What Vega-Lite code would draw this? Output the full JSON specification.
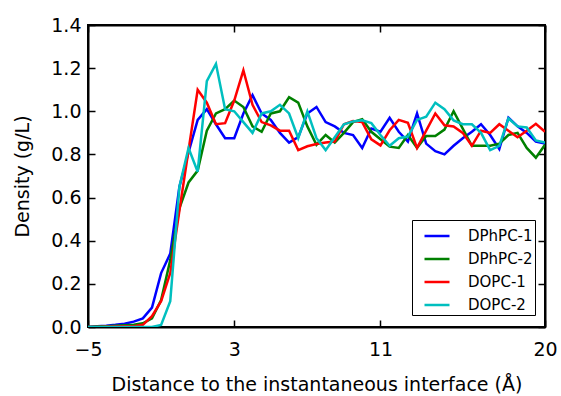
{
  "$schema": "https://vega.github.io/schema/vega-lite/v6.json",
  "width": 457,
  "height": 302,
  "autosize": "none",
  "padding": {"left": 88, "top": 25, "right": 16, "bottom": 69},
  "background": "white",
  "config": {
    "font": "DejaVu Sans",
    "view": {"stroke": "black", "strokeWidth": 2},
    "axis": {
      "grid": false,
      "domainColor": "black",
      "domainWidth": 2,
      "tickColor": "black",
      "tickWidth": 1.5,
      "tickSize": -7,
      "labelFont": "DejaVu Sans",
      "labelFontSize": 19,
      "labelColor": "black",
      "titleFont": "DejaVu Sans",
      "titleFontSize": 19,
      "titleFontWeight": "normal",
      "titleColor": "black"
    }
  },
  "data": {
    "values": [
      {"x": -5.0, "DPhPC-1": 0.0, "DPhPC-2": 0.0, "DOPC-1": 0.0, "DOPC-2": 0.0},
      {"x": -4.5, "DPhPC-1": 0.003, "DPhPC-2": 0.002, "DOPC-1": 0.0, "DOPC-2": 0.0},
      {"x": -4.0, "DPhPC-1": 0.006, "DPhPC-2": 0.004, "DOPC-1": 0.001, "DOPC-2": 0.0},
      {"x": -3.5, "DPhPC-1": 0.01, "DPhPC-2": 0.006, "DOPC-1": 0.002, "DOPC-2": 0.0},
      {"x": -3.0, "DPhPC-1": 0.015, "DPhPC-2": 0.008, "DOPC-1": 0.003, "DOPC-2": 0.0},
      {"x": -2.5, "DPhPC-1": 0.025, "DPhPC-2": 0.01, "DOPC-1": 0.004, "DOPC-2": 0.0},
      {"x": -2.0, "DPhPC-1": 0.04, "DPhPC-2": 0.017, "DOPC-1": 0.01, "DOPC-2": 0.0},
      {"x": -1.5, "DPhPC-1": 0.09, "DPhPC-2": 0.04, "DOPC-1": 0.05, "DOPC-2": 0.0},
      {"x": -1.0, "DPhPC-1": 0.25, "DPhPC-2": 0.125, "DOPC-1": 0.12, "DOPC-2": 0.01},
      {"x": -0.5, "DPhPC-1": 0.34, "DPhPC-2": 0.31, "DOPC-1": 0.25, "DOPC-2": 0.12},
      {"x": 0.0, "DPhPC-1": 0.65, "DPhPC-2": 0.55, "DOPC-1": 0.54, "DOPC-2": 0.65},
      {"x": 0.5, "DPhPC-1": 0.81, "DPhPC-2": 0.67, "DOPC-1": 0.82, "DOPC-2": 0.83},
      {"x": 1.0, "DPhPC-1": 0.96, "DPhPC-2": 0.725, "DOPC-1": 1.1, "DOPC-2": 0.72},
      {"x": 1.5, "DPhPC-1": 1.01, "DPhPC-2": 0.91, "DOPC-1": 1.04, "DOPC-2": 1.14},
      {"x": 2.0, "DPhPC-1": 0.94, "DPhPC-2": 0.99, "DOPC-1": 0.94, "DOPC-2": 1.22},
      {"x": 2.5, "DPhPC-1": 0.875, "DPhPC-2": 1.01, "DOPC-1": 0.945, "DOPC-2": 1.01},
      {"x": 3.0, "DPhPC-1": 0.875, "DPhPC-2": 1.05, "DOPC-1": 1.05, "DOPC-2": 1.0},
      {"x": 3.5, "DPhPC-1": 0.99, "DPhPC-2": 1.02, "DOPC-1": 1.19, "DOPC-2": 0.95},
      {"x": 4.0, "DPhPC-1": 1.075, "DPhPC-2": 0.93, "DOPC-1": 1.03, "DOPC-2": 0.9},
      {"x": 4.5, "DPhPC-1": 0.99, "DPhPC-2": 0.905, "DOPC-1": 0.95, "DOPC-2": 0.99},
      {"x": 5.0, "DPhPC-1": 0.96, "DPhPC-2": 0.99, "DOPC-1": 0.935, "DOPC-2": 1.0},
      {"x": 5.5, "DPhPC-1": 0.9, "DPhPC-2": 1.0, "DOPC-1": 0.91, "DOPC-2": 1.03},
      {"x": 6.0, "DPhPC-1": 0.855, "DPhPC-2": 1.065, "DOPC-1": 0.91, "DOPC-2": 0.99},
      {"x": 6.5, "DPhPC-1": 0.88, "DPhPC-2": 1.04, "DOPC-1": 0.82, "DOPC-2": 0.875},
      {"x": 7.0, "DPhPC-1": 0.99, "DPhPC-2": 0.93, "DOPC-1": 0.838, "DOPC-2": 1.0},
      {"x": 7.5, "DPhPC-1": 1.02, "DPhPC-2": 0.845, "DOPC-1": 0.848, "DOPC-2": 0.875},
      {"x": 8.0, "DPhPC-1": 0.95, "DPhPC-2": 0.89, "DOPC-1": 0.855, "DOPC-2": 0.82},
      {"x": 8.5, "DPhPC-1": 0.93, "DPhPC-2": 0.855, "DOPC-1": 0.86, "DOPC-2": 0.88},
      {"x": 9.0, "DPhPC-1": 0.9, "DPhPC-2": 0.9, "DOPC-1": 0.94, "DOPC-2": 0.94},
      {"x": 9.5, "DPhPC-1": 0.89, "DPhPC-2": 0.95, "DOPC-1": 0.955, "DOPC-2": 0.953},
      {"x": 10.0, "DPhPC-1": 0.83, "DPhPC-2": 0.963, "DOPC-1": 0.95, "DOPC-2": 0.958},
      {"x": 10.5, "DPhPC-1": 0.92, "DPhPC-2": 0.905, "DOPC-1": 0.87, "DOPC-2": 0.945},
      {"x": 11.0, "DPhPC-1": 0.905, "DPhPC-2": 0.87, "DOPC-1": 0.842, "DOPC-2": 0.89},
      {"x": 11.5, "DPhPC-1": 0.97, "DPhPC-2": 0.836, "DOPC-1": 0.912, "DOPC-2": 0.84},
      {"x": 12.0, "DPhPC-1": 0.905, "DPhPC-2": 0.83, "DOPC-1": 0.96, "DOPC-2": 0.875},
      {"x": 12.5, "DPhPC-1": 0.86, "DPhPC-2": 0.89, "DOPC-1": 0.947, "DOPC-2": 0.883},
      {"x": 13.0, "DPhPC-1": 0.99, "DPhPC-2": 0.83, "DOPC-1": 0.83, "DOPC-2": 0.96},
      {"x": 13.5, "DPhPC-1": 0.85, "DPhPC-2": 0.885, "DOPC-1": 0.91, "DOPC-2": 0.975},
      {"x": 14.0, "DPhPC-1": 0.815, "DPhPC-2": 0.885, "DOPC-1": 0.99, "DOPC-2": 1.04},
      {"x": 14.5, "DPhPC-1": 0.8, "DPhPC-2": 0.915, "DOPC-1": 0.935, "DOPC-2": 1.01},
      {"x": 15.0, "DPhPC-1": 0.84, "DPhPC-2": 1.0, "DOPC-1": 0.93, "DOPC-2": 0.958},
      {"x": 15.5, "DPhPC-1": 0.875, "DPhPC-2": 0.92, "DOPC-1": 0.9, "DOPC-2": 0.94},
      {"x": 16.0, "DPhPC-1": 0.905, "DPhPC-2": 0.84, "DOPC-1": 0.84, "DOPC-2": 0.94},
      {"x": 16.5, "DPhPC-1": 0.94, "DPhPC-2": 0.84, "DOPC-1": 0.91, "DOPC-2": 0.9},
      {"x": 17.0, "DPhPC-1": 0.89, "DPhPC-2": 0.84, "DOPC-1": 0.9, "DOPC-2": 0.82},
      {"x": 17.5, "DPhPC-1": 0.825, "DPhPC-2": 0.85, "DOPC-1": 0.94, "DOPC-2": 0.84},
      {"x": 18.0, "DPhPC-1": 0.97, "DPhPC-2": 0.89, "DOPC-1": 0.91, "DOPC-2": 0.967},
      {"x": 18.5, "DPhPC-1": 0.93, "DPhPC-2": 0.9, "DOPC-1": 0.88, "DOPC-2": 0.93},
      {"x": 19.0, "DPhPC-1": 0.9, "DPhPC-2": 0.83, "DOPC-1": 0.91, "DOPC-2": 0.925},
      {"x": 19.5, "DPhPC-1": 0.86, "DPhPC-2": 0.785, "DOPC-1": 0.942, "DOPC-2": 0.865},
      {"x": 20.0, "DPhPC-1": 0.85, "DPhPC-2": 0.845, "DOPC-1": 0.905, "DOPC-2": 0.855}
    ]
  },
  "transform": [
    {"fold": ["DPhPC-1", "DPhPC-2", "DOPC-1", "DOPC-2"], "as": ["series", "density"]}
  ],
  "layer": [
    {
      "mark": {"type": "line", "strokeWidth": 2.5, "clip": true},
      "encoding": {
        "x": {
          "field": "x", "type": "quantitative",
          "scale": {"domain": [-5, 20], "nice": false, "zero": false},
          "axis": {"values": [-5, 3, 11, 20], "title": "Distance to the instantaneous interface (Å)", "labelPadding": 20, "titlePadding": 16, "labelFlush": false}
        },
        "y": {
          "field": "density", "type": "quantitative",
          "scale": {"domain": [0, 1.4], "nice": false},
          "axis": {"values": [0, 0.2, 0.4, 0.6, 0.8, 1.0, 1.2, 1.4], "format": ".1f", "title": "Density (g/L)", "labelPadding": 14, "titlePadding": 18}
        },
        "color": {
          "field": "series", "type": "nominal",
          "scale": {"domain": ["DPhPC-1", "DPhPC-2", "DOPC-1", "DOPC-2"], "range": ["#0000ff", "#008000", "#ff0000", "#00bfbf"]},
          "legend": {
            "title": null,
            "orient": "none",
            "legendX": 324,
            "legendY": 195,
            "symbolType": "stroke",
            "symbolSize": 625,
            "symbolStrokeWidth": 2.5,
            "symbolOffset": 9,
            "labelFont": "DejaVu Sans",
            "labelFontSize": 15,
            "labelColor": "black",
            "labelOffset": 17,
            "rowPadding": 1,
            "padding": 2,
            "strokeColor": "black",
            "fillColor": "white"
          }
        },
        "detail": {"field": "series"}
      }
    },
    {
      "mark": {"type": "point", "opacity": 0},
      "encoding": {
        "x": {"field": "x", "type": "quantitative", "axis": {"orient": "top", "values": [-5, 3, 11, 20], "labels": false, "title": null}},
        "y": {"field": "density", "type": "quantitative", "axis": {"orient": "right", "values": [0, 0.2, 0.4, 0.6, 0.8, 1.0, 1.2, 1.4], "labels": false, "title": null}}
      }
    }
  ],
  "resolve": {"axis": {"x": "independent", "y": "independent"}}
}
